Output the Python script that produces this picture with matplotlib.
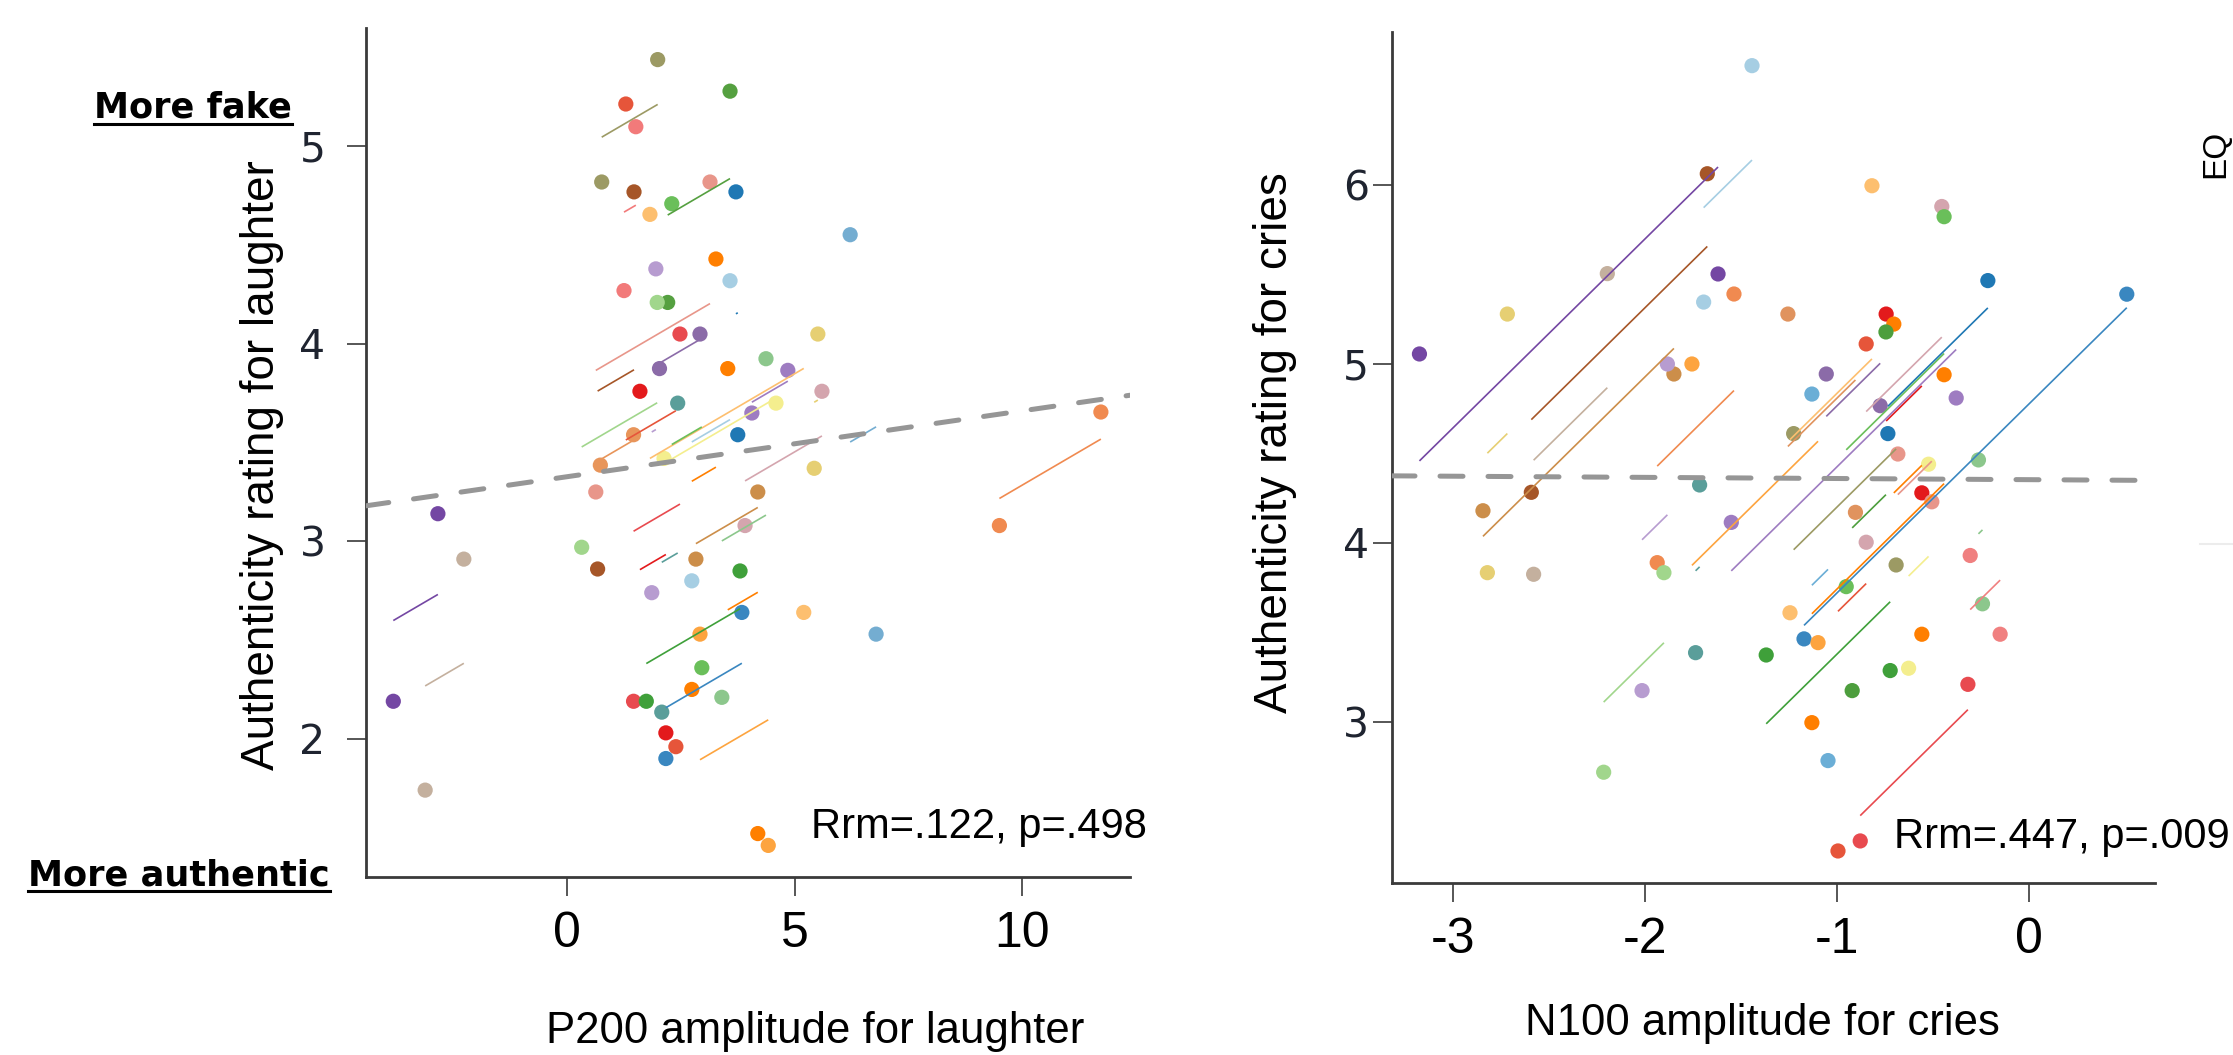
# rm_corr_panels.py - repeated measures correlation plots, laughter vs cries
# two panels side by side, each participant gets two points and a fitted segment

import numpy as np
import matplotlib
matplotlib.use('Agg')
import matplotlib.pyplot as plt
from matplotlib.lines import Line2D

# ---- data ----

# laughter panel: participant colours and their two (P200, rating) measures
laugh_colors = ['#9c9a64', '#e6553a', '#55a040', '#f27a7a', '#a65628', '#e8968a', '#1f78b4', '#fdbf6f',
                '#74add1', '#ff7f00', '#ff7f00', '#b79cd0', '#a6cee3', '#a1d68c', '#e84a4f', '#8b6ba8',
                '#e6cf73', '#8cc78c', '#9e7cc1', '#e31a1c', '#5a9e9a', '#d4a5ae', '#f4ee8e', '#e8955a',
                '#3a87c0', '#3fa03a', '#cc8e4a', '#fda43f', '#6abf5a', '#7447a3', '#c4b09e', '#f08a50']
laugh_x1 = [0.76, 1.29, 2.21, 1.25, 0.67, 0.63, 3.71, 1.82, 6.22, 2.74, 3.53, 1.86, 2.74, 0.32, 1.46, 2.03,
            5.43, 3.40, 4.06, 1.60, 2.08, 3.91, 2.13, 0.73, 2.17, 1.74, 2.83, 2.92, 2.30, -3.82, -3.12, 9.50]
laugh_y1 = [4.82, 5.215, 4.21, 4.27, 2.86, 3.25, 4.77, 4.656, 4.553, 2.25, 3.875, 2.74, 2.80, 2.97, 2.19, 3.875,
            3.37, 2.21, 3.65, 3.76, 2.135, 3.08, 3.42, 3.386, 1.90, 2.19, 2.91, 2.53, 4.71, 2.19, 1.74, 3.08]
laugh_x2 = [1.99, 2.39, 3.58, 1.51, 1.47, 3.14, 3.75, 5.20, 6.79, 3.27, 4.19, 1.95, 3.58, 1.98, 2.48, 2.92,
            5.51, 4.37, 4.85, 2.17, 2.43, 5.60, 4.59, 1.46, 3.84, 3.80, 4.19, 4.42, 2.96, -2.84, -2.27, 11.73]
laugh_y2 = [5.44, 1.96, 5.28, 5.10, 4.77, 4.82, 3.54, 2.64, 2.53, 4.43, 1.52, 4.38, 4.32, 4.21, 4.05, 4.05,
            4.05, 3.925, 3.866, 2.03, 3.70, 3.76, 3.70, 3.54, 2.64, 2.85, 3.25, 1.46, 2.36, 3.14, 2.91, 3.655]

# cries panel: participant colours and their two (N100, rating) measures
cry_colors = ['#7447a3', '#a65628', '#c4b09e', '#e6cf73', '#cc8e4a', '#a6cee3', '#fdbf6f', '#d4a5ae',
              '#6abf5a', '#1f78b4', '#3a87c0', '#f08a50', '#e0935e', '#e31a1c', '#ff7f00', '#ff7f00',
              '#4d9e3d', '#e6553a', '#b79cd0', '#8b6ba8', '#6baed6', '#9e7cc1', '#9c9a64', '#e8968a',
              '#8cc78c', '#f4ee8e', '#5a9e9a', '#3fa03a', '#a1d68c', '#fda43f', '#f08080', '#e84a4f']
cry_x1 = [-3.177, -2.594, -2.582, -2.823, -2.846, -1.696, -1.246, -0.849, -0.953, -0.736, -1.173, -1.938,
          -1.257, -0.745, -0.705, -1.132, -0.922, -0.996, -2.017, -1.057, -1.132, -1.552, -1.227, -0.684,
          -0.264, -0.628, -1.738, -1.370, -2.217, -1.757, -0.307, -0.880]
cry_y1 = [5.056, 4.283, 3.825, 3.834, 4.18, 5.346, 3.61, 4.004, 3.756, 4.611, 3.464, 3.89,
          5.279, 5.279, 5.223, 2.996, 3.175, 2.279, 3.175, 4.944, 4.832, 4.115, 4.611, 4.497,
          4.464, 3.30, 3.387, 3.374, 2.719, 5.0, 3.93, 2.335]
cry_x2 = [-1.621, -1.677, -2.198, -2.719, -1.851, -1.444, -0.819, -0.455, -0.443, -0.215, 0.509, -1.538,
          -0.905, -0.559, -0.559, -0.443, -0.746, -0.849, -1.885, -0.776, -1.048, -0.380, -0.693, -0.507,
          -0.243, -0.524, -1.717, -0.724, -1.903, -1.100, -0.151, -0.319]
cry_y2 = [5.503, 6.063, 5.505, 5.279, 4.944, 6.667, 5.996, 5.88, 5.823, 5.466, 5.39, 5.391,
          4.171, 4.28, 3.49, 4.94, 5.179, 5.112, 5.0, 4.767, 2.784, 4.81, 3.877, 4.23,
          3.66, 4.44, 4.324, 3.287, 3.834, 3.443, 3.49, 3.21]

# grey dashed overall trend lines (end points)
laugh_trend_x = [-4.42, 12.37]
laugh_trend_y = [3.18, 3.74]
cry_trend_x = [-3.32, 0.566]
cry_trend_y = [4.375, 4.35]

laugh_xticks = [0, 5, 10]
laugh_yticks = [2, 3, 4, 5]
cry_xticks = [-3, -2, -1, 0]
cry_yticks = [3, 4, 5, 6]

laugh_stats = 'Rrm=.122, p=.498'
cry_stats = 'Rrm=.447, p=.009'

W, H = 2233, 1055  # output size in pixels (dpi 100)

plt.rcParams['font.family'] = ['Liberation Sans', 'DejaVu Sans']
plt.rcParams['axes.unicode_minus'] = False


def rm_slope(x1, y1, x2, y2):
    # common within-participant slope (rmcorr style, two measures each)
    dx = x2 - x1
    dy = y2 - y1
    return np.sum(dx * dy) / np.sum(dx * dx)


def px_box(left, top, right, bottom):
    # pixel box (from top-left) -> figure fraction rect
    return [left / W, 1 - bottom / H, (right - left) / W, (bottom - top) / H]


def draw_panel(ax, x1, y1, x2, y2, colors, trend_x, trend_y):
    x1, y1, x2, y2 = map(np.asarray, (x1, y1, x2, y2))

    # the individual measures
    ax.scatter(np.concatenate([x1, x2]), np.concatenate([y1, y2]), s=120,
               c=colors + colors, linewidths=0, zorder=2)

    # per participant fitted segment with the shared slope
    slope = rm_slope(x1, y1, x2, y2)
    xm = (x1 + x2) / 2
    ym = (y1 + y2) / 2
    lo = np.minimum(x1, x2)
    hi = np.maximum(x1, x2)
    for i in range(len(x1)):
        ax.plot([lo[i], hi[i]], [ym[i] + slope * (lo[i] - xm[i]), ym[i] + slope * (hi[i] - xm[i])],
                color=colors[i], lw=1.2, solid_capstyle='butt', zorder=3)

    # overall trend
    ax.plot(trend_x, trend_y, color='#969696', lw=3.6, dashes=(4.6, 5.0),
            dash_capstyle='round', zorder=4)

    for side in ['top', 'right']:
        ax.spines[side].set_visible(False)
    for side in ['left', 'bottom']:
        ax.spines[side].set_color('#3a3a3a')
        ax.spines[side].set_linewidth(2)
    ax.tick_params(direction='out', length=13.7, width=1.2, color='#3a3a3a')
    ax.tick_params(axis='x', labelsize=36, pad=11)
    ax.tick_params(axis='y', labelsize=29.5, labelfontfamily='DejaVu Sans', labelcolor='#1f2430')
    ax.set_facecolor('none')


def underlined(fig, x, y, text, ha):
    # bold text with a rule under it, x/y in pixels from top-left
    t = fig.text(x / W, 1 - y / H, text, ha=ha, va='baseline', fontsize=25.3,
                 fontweight='bold', family='DejaVu Sans')
    fig.canvas.draw()
    bb = t.get_window_extent(fig.canvas.get_renderer())
    uy = 1 - (y + 6) / H
    fig.add_artist(Line2D([bb.x0 / W, bb.x1 / W], [uy, uy], color='black', lw=2.2))


def main():
    fig = plt.figure(figsize=(W / 100, H / 100), dpi=100)
    fig.patch.set_facecolor('white')

    # left panel - laughter
    ax1 = fig.add_axes(px_box(366, 28, 1130, 877))
    draw_panel(ax1, laugh_x1, laugh_y1, laugh_x2, laugh_y2, laugh_colors, laugh_trend_x, laugh_trend_y)
    ax1.set_xlim(-4.42, 12.37)
    ax1.set_ylim(1.30, 5.60)
    ax1.set_xticks(laugh_xticks)
    ax1.set_yticks(laugh_yticks)
    ax1.tick_params(axis='y', pad=15.5)

    # right panel - cries
    ax2 = fig.add_axes(px_box(1392, 32, 2155, 883))
    draw_panel(ax2, cry_x1, cry_y1, cry_x2, cry_y2, cry_colors, cry_trend_x, cry_trend_y)
    ax2.set_xlim(-3.32, 0.656)
    ax2.set_ylim(2.10, 6.855)
    ax2.set_xticks(cry_xticks)
    ax2.set_yticks(cry_yticks)
    ax2.tick_params(axis='y', pad=3)

    # axis titles
    fig.text(262 / W, 1 - 465 / H, 'Authenticity rating for laughter', rotation=90,
             ha='center', va='center', fontsize=33)
    fig.text(1275 / W, 1 - 443 / H, 'Authenticity rating for cries', rotation=90,
             ha='center', va='center', fontsize=33)
    fig.text(815 / W, 1 - 1043 / H, 'P200 amplitude for laughter', ha='center', va='baseline', fontsize=31.5)
    fig.text(1762 / W, 1 - 1035 / H, 'N100 amplitude for cries', ha='center', va='baseline', fontsize=31.5)

    # stats
    fig.text(811 / W, 1 - 838 / H, laugh_stats, ha='left', va='baseline', fontsize=30)
    fig.text(1894 / W, 1 - 848 / H, cry_stats, ha='left', va='baseline', fontsize=30)

    # label of the neighbouring panel, squeezed against the right edge
    fig.text(2231 / W, 1 - 154 / H, 'EQ', rotation=90, ha='right', va='center', fontsize=24)
    fig.add_artist(Line2D([2200 / W, 1.0], [1 - 544 / H, 1 - 544 / H], color='#ececec', lw=1.5))

    # scale annotations
    underlined(fig, 292, 118, 'More fake', 'right')
    underlined(fig, 330, 885, 'More authentic', 'right')

    fig.savefig('out.png', dpi=100)
    print('saved out.png')


if __name__ == '__main__':
    main()
